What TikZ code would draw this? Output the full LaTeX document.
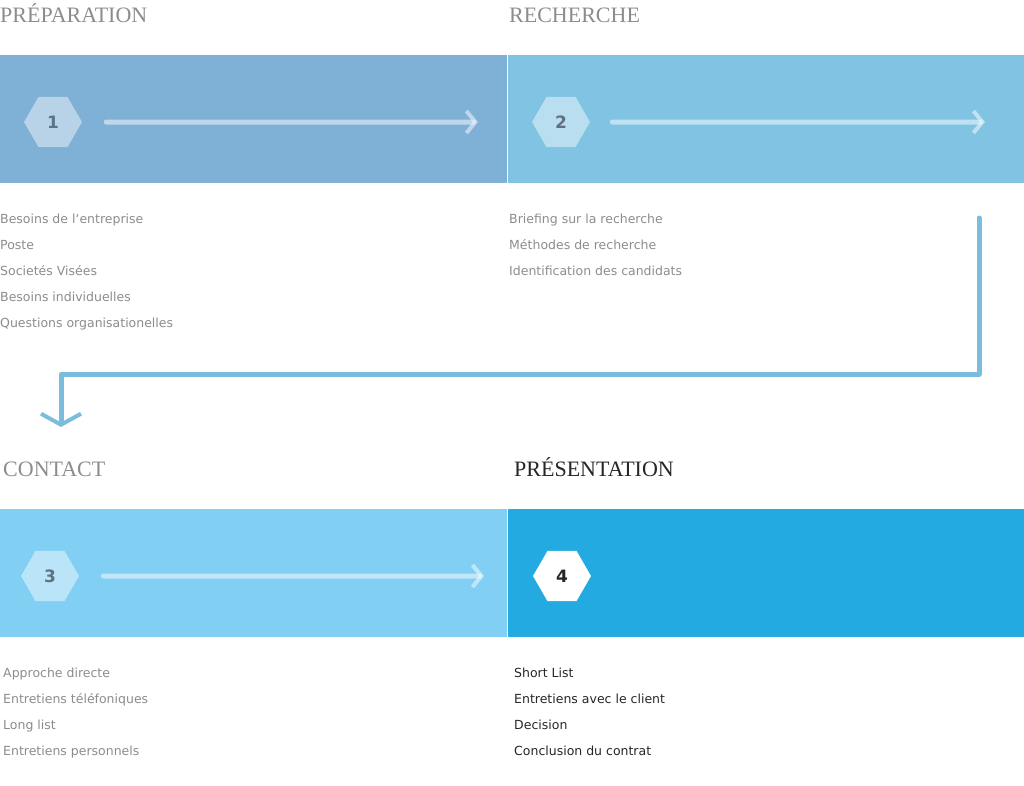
\documentclass[tikz,border=0pt]{standalone}
\usepackage{fontspec}
\setmainfont{Liberation Serif}
\newfontfamily\txtfont{DejaVu Sans}
\usetikzlibrary{shapes.geometric,arrows.meta}
\definecolor{bA}{HTML}{7FB0D5}
\definecolor{bB}{HTML}{80C3E3}
\definecolor{bC}{HTML}{82CFF4}
\definecolor{bD}{HTML}{23AAE0}
\definecolor{gtxt}{HTML}{8C8C8C}
\definecolor{numc}{HTML}{5E7282}
\definecolor{conn}{HTML}{7BBDDC}
\tikzset{
 hexa/.style={regular polygon,regular polygon sides=6,minimum size=58pt,inner sep=0pt,fill=white,fill opacity=0.45,text opacity=1,text=numc,font=\txtfont\bfseries\fontsize{17}{17}\selectfont},
 flow/.style={draw=white,draw opacity=0.5,line width=5pt,line cap=round,-{Straight Barb[length=9pt,width=22pt,line width=4pt]}},
 ttl/.style={anchor=base west,font=\fontsize{22}{22}\selectfont,text=gtxt,inner sep=0pt},
 lst/.style={anchor=north west,align=left,font=\txtfont\fontsize{12.5}{26}\selectfont,text=gtxt,inner sep=0pt}
}
\begin{document}
\begin{tikzpicture}[x=1pt,y=-1pt]
\useasboundingbox (0,0) rectangle (1024,785);
\fill[bA] (0,55) rectangle (507,183);
\fill[bB] (508,55) rectangle (1024,183);
\fill[bC] (0,509) rectangle (507,637);
\fill[bD] (508,509) rectangle (1024,637);
\node[ttl] (t1) at (0,22) {PRÉPARATION};
\node[ttl] (t2) at (509,22) {RECHERCHE};
\node[ttl] (t3) at (3,476) {CONTACT};
\node[ttl,text=black!85] (t4) at (514,476) {PRÉSENTATION};
\node[hexa] (h1) at (53,122) {1};
\node[hexa] (h2) at (561,122) {2};
\node[hexa] (h3) at (50,576) {3};
\node[hexa,fill opacity=1,text=black!85] (h4) at (562,576) {4};
\coordinate (a1) at (478,122); \coordinate (a2) at (985,122); \coordinate (a3) at (484,576);
\draw[flow] (h1.east)++(24,0) -- (a1);
\draw[flow] (h2.east)++(22,0) -- (a2);
\draw[flow] (h3.east)++(24,0) -- (a3);
\node[lst] (l1) at (0,214) {Besoins de l‘entreprise\\Poste\\Societés Visées\\Besoins individuelles\\Questions organisationelles};
\node[lst] (l2) at (509,214) {Briefing sur la recherche\\Méthodes de recherche\\Identification des candidats};
\node[lst] (l3) at (3,668) {Approche directe\\Entretiens téléfoniques\\Long list\\Entretiens personnels};
\node[lst,text=black!85] (l4) at (514,668) {Short List\\Entretiens avec le client\\Decision\\Conclusion du contrat};
\coordinate (c0) at (979,218); \coordinate (c1) at (61,427);
\draw[conn,line width=5pt,line cap=round,line join=round,-{Straight Barb[length=11pt,width=40pt,line width=4pt]}] (c0) |- (61,374) -- (c1);
\end{tikzpicture}
\end{document}
